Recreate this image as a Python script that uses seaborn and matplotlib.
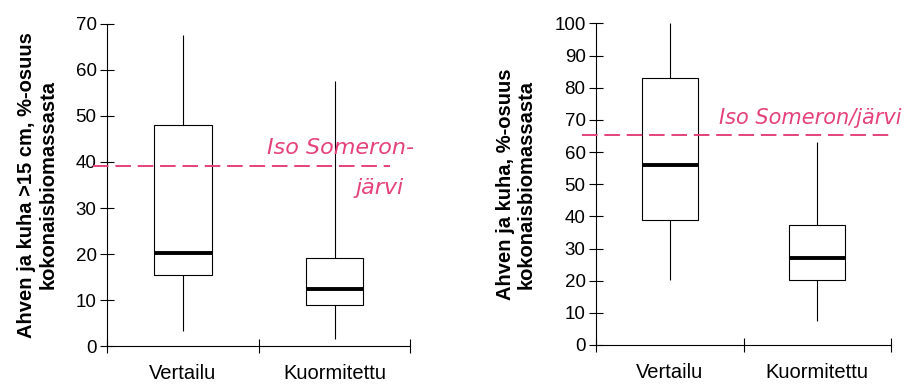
import matplotlib
matplotlib.use('Agg')
import matplotlib.pyplot as plt
import seaborn as sns
import pandas as pd

# ---- data ----
categories = ['Vertailu', 'Kuormitettu']
# five-number summaries per group: [min, Q1, median, Q3, max]
left_vertailu = [3.2, 15.5, 20.3, 48.0, 67.5]
left_kuormitettu = [1.5, 9.0, 12.4, 19.2, 57.6]
right_vertailu = [20.2, 38.9, 55.9, 83.1, 100.0]
right_kuormitettu = [7.3, 20.2, 27.1, 37.3, 63.0]
left_yticks = [0, 10, 20, 30, 40, 50, 60, 70]
right_yticks = [0, 10, 20, 30, 40, 50, 60, 70, 80, 90, 100]
left_ylabel = 'Ahven ja kuha >15 cm, %-osuus\nkokonaisbiomassasta'
right_ylabel = 'Ahven ja kuha, %-osuus\nkokonaisbiomassasta'
ref_left = 39.2
ref_right = 65.3
note_left_1 = 'Iso Someron-'
note_left_2 = 'järvi'
note_right = 'Iso Someron/järvi'

plt.rcParams['font.family'] = ['Liberation Sans', 'DejaVu Sans']

def long_df(a, b):
    return pd.DataFrame({
        'group': [categories[0]] * len(a) + [categories[1]] * len(b),
        'value': a + b,
    })

df_left = long_df(left_vertailu, left_kuormitettu)
df_right = long_df(right_vertailu, right_kuormitettu)

fig = plt.figure(figsize=(9.14, 3.85), dpi=100)
fig.patch.set_facecolor('white')
ax1 = fig.add_axes([0.117, 0.101, 0.332, 0.837])
ax2 = fig.add_axes([0.652, 0.104, 0.323, 0.835])

pink = '#e5417a'

def draw(ax, df, yticks, ylabel, label_x, ref, ref_span, lsp):
    sns.boxplot(data=df, x='group', y='value', order=categories, ax=ax,
                width=0.38, whis=(0, 100), showfliers=False, showcaps=False,
                color='white', linecolor='black', linewidth=0.8,
                medianprops=dict(linewidth=2.8, color='black'))
    ax.set_xlim(-0.5, 1.5)
    ax.set_ylim(yticks[0], yticks[-1])
    ax.set_yticks(yticks)
    ax.set_xticks([-0.5, 0.5, 1.5])
    ax.set_xticklabels(['', '', ''])
    ax.set_xticks([0, 1], minor=True)
    ax.set_xticklabels(categories, minor=True, fontsize=14.5)
    ax.tick_params(axis='x', which='minor', length=0, pad=13)
    ax.tick_params(axis='x', which='major', direction='inout', length=10, width=0.8)
    ax.tick_params(axis='y', direction='inout', length=10, width=0.8, labelsize=13.5, pad=2.5)
    for s in ['top', 'right']:
        ax.spines[s].set_visible(False)
    for s in ['left', 'bottom']:
        ax.spines[s].set_linewidth(0.8)
    ax.set_xlabel('')
    ax.set_ylabel(ylabel, fontsize=14.5, fontweight='bold', linespacing=lsp)
    ax.yaxis.set_label_coords(label_x, 0.5)
    ax.axhline(ref, xmin=ref_span[0], xmax=ref_span[1], color=pink, lw=1.4,
               linestyle=(0, (8, 3.5)), clip_on=False, zorder=5)

draw(ax1, df_left, left_yticks, left_ylabel, -0.162, ref_left, (-0.046, 0.934), 1.2)
draw(ax2, df_right, right_yticks, right_ylabel, -0.205, ref_right, (-0.047, 1.007), 1.1)

hand = dict(color=pink, fontstyle='italic', family=['DejaVu Sans'],
            fontweight='light', clip_on=False)
ax1.text(1.04, 43.0, note_left_1, fontsize=16, ha='center', va='center', **hand)
ax1.text(1.30, 34.3, note_left_2, fontsize=16, ha='center', va='center', **hand)
ax2.text(0.95, 70.6, note_right, fontsize=15, ha='center', va='center', **hand)

fig.savefig('out.png', dpi=100, facecolor='white')
